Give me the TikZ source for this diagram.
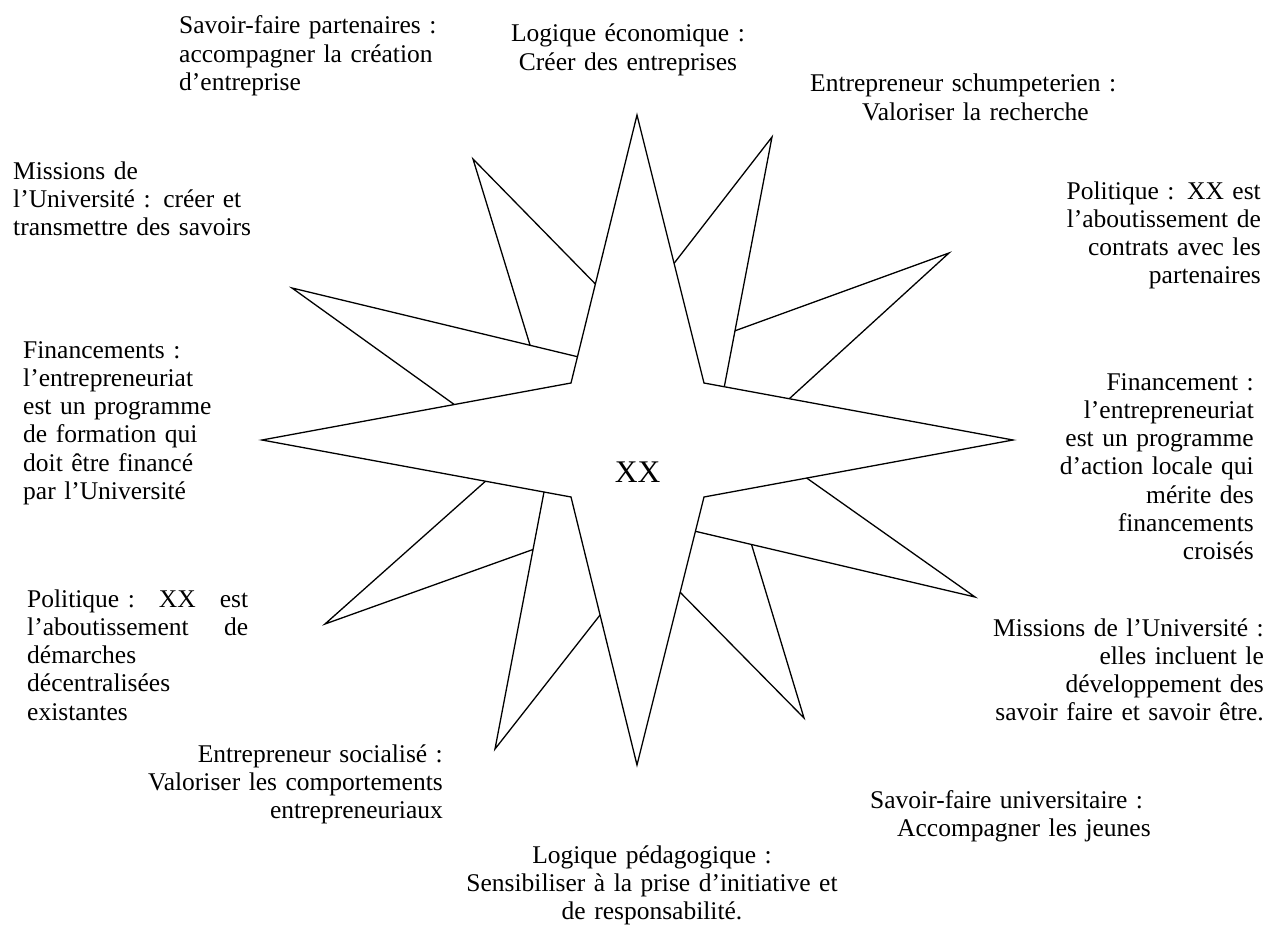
\documentclass[tikz,border=0pt]{standalone}
\usepackage{fontspec}
\setmainfont{Liberation Serif}
\usetikzlibrary{calc}
\begin{document}
\begin{tikzpicture}[x=1pt,y=-1pt,
  edge/.style={line width=1.3pt, line join=miter, line cap=butt},
  lbl/.style={inner sep=0pt, font=\fontsize{25.5}{28.3}\selectfont, text width=430pt},
  lblL/.style={lbl, align=left, anchor=base west},
  lblR/.style={lbl, align=right, anchor=base east},
  lblC/.style={lbl, align=center, anchor=base},
]
\useasboundingbox (0,0) rectangle (1270,942);

% main four-pointed star
\coordinate (N) at (637,115);
\coordinate (E) at (1013,440);
\coordinate (S) at (637,765);
\coordinate (W) at (262,440);
\coordinate (iNE) at (704,383);
\coordinate (iSE) at (704,497);
\coordinate (iSW) at (571,497);
\coordinate (iNW) at (571,383);

% secondary tips
\coordinate (tNNE) at (772,137);
\coordinate (tENE) at (949,253);
\coordinate (tESE) at (975,597);
\coordinate (tSSE) at (804,718);
\coordinate (tSSW) at (495,749);
\coordinate (tWSW) at (325,624);
\coordinate (tWNW) at (292,288);
\coordinate (tNNW) at (473,159);

% base points of the secondary points
\coordinate (aNNE) at ($(N)!0.5534!(iNE)$);
\coordinate (bNNE) at ($(iNE)!0.0657!(E)$);
\coordinate (aENE) at ($(bNNE)!0.224!(tNNE)$);
\coordinate (bENE) at ($(iNE)!0.276!(E)$);
\coordinate (aESE) at ($(E)!0.6676!(iSE)$);
\coordinate (bESE) at ($(iSE)!0.128!(S)$);
\coordinate (aSSE) at ($(iSE)!0.3556!(S)$);
\coordinate (bSSE) at ($(bESE)!0.2006!(tESE)$);
\coordinate (aSSW) at ($(W)!0.9126!(iSW)$);
\coordinate (bSSW) at ($(iSW)!0.4403!(S)$);
\coordinate (aWSW) at ($(W)!0.7233!(iSW)$);
\coordinate (bWSW) at ($(aSSW)!0.2236!(tSSW)$);
\coordinate (aWNW) at ($(W)!0.6223!(iNW)$);
\coordinate (bWNW) at ($(iNW)!0.0981!(N)$);
\coordinate (aNNW) at ($(iNW)!0.3694!(N)$);
\coordinate (bNNW) at ($(bWNW)!0.166!(tWNW)$);

\draw[edge] (N) -- (iNE) -- (E) -- (iSE) -- (S) -- (iSW) -- (W) -- (iNW) -- cycle;
\draw[edge] (aNNE) -- (tNNE) -- (bNNE);
\draw[edge] (aENE) -- (tENE) -- (bENE);
\draw[edge] (aESE) -- (tESE) -- (bESE);
\draw[edge] (aSSE) -- (tSSE) -- (bSSE);
\draw[edge] (aSSW) -- (tSSW) -- (bSSW);
\draw[edge] (aWSW) -- (tWSW) -- (bWSW);
\draw[edge] (aWNW) -- (tWNW) -- (bWNW);
\draw[edge] (aNNW) -- (tNNW) -- (bNNW);

\node[inner sep=0pt, anchor=base, font=\fontsize{31.5}{36}\selectfont] (xx) at (637.5,482.5) {XX};

% labels
\node[lblL] (sfp) at (179,34) {Savoir-faire partenaires :\\accompagner la création\\d’entreprise};
\node[lblC] (leco) at (628,42) {Logique économique :\\Créer des entreprises};
\node[lblL] (esch) at (810,92) {Entrepreneur schumpeterien :\\\hspace*{52pt}Valoriser la recherche};
\node[lblL] (mun1) at (13,179) {Missions de\\l’Université : créer et\\transmettre des savoirs};
\node[lblR] (pol1) at (1261,199) {Politique : XX est\\l’aboutissement de\\contrats avec les\\partenaires};
\node[lblL] (fin1) at (23,358) {Financements :\\l’entrepreneuriat\\\makebox[192pt][s]{est un programme}\\\makebox[192pt][s]{de formation qui}\\\makebox[192pt][s]{doit être financé}\\par l’Université};
\node[lblR] (fin2) at (1254,390) {Financement :\\l’entrepreneuriat\\est un programme\\d’action locale qui\\mérite des\\financements\\croisés};
\node[lblL] (pol2) at (27,607) {\makebox[221pt][l]{Politique :\hfill XX\hfill est}\\\makebox[221pt][l]{l’aboutissement\hfill de}\\démarches\\décentralisées\\existantes};
\node[lblR] (mun2) at (1264,636) {Missions de l’Université :\\elles incluent le\\développement des\\savoir faire et savoir être.};
\node[lblR] (esoc) at (443,762) {Entrepreneur socialisé :\\Valoriser les comportements\\entrepreneuriaux};
\node[lblL] (sfu) at (870,808) {Savoir-faire universitaire :\\\hspace*{27pt}Accompagner les jeunes};
\node[lblC] (lped) at (652,863) {Logique pédagogique :\\Sensibiliser à la prise d’initiative et\\de responsabilité.};
\end{tikzpicture}
\end{document}
